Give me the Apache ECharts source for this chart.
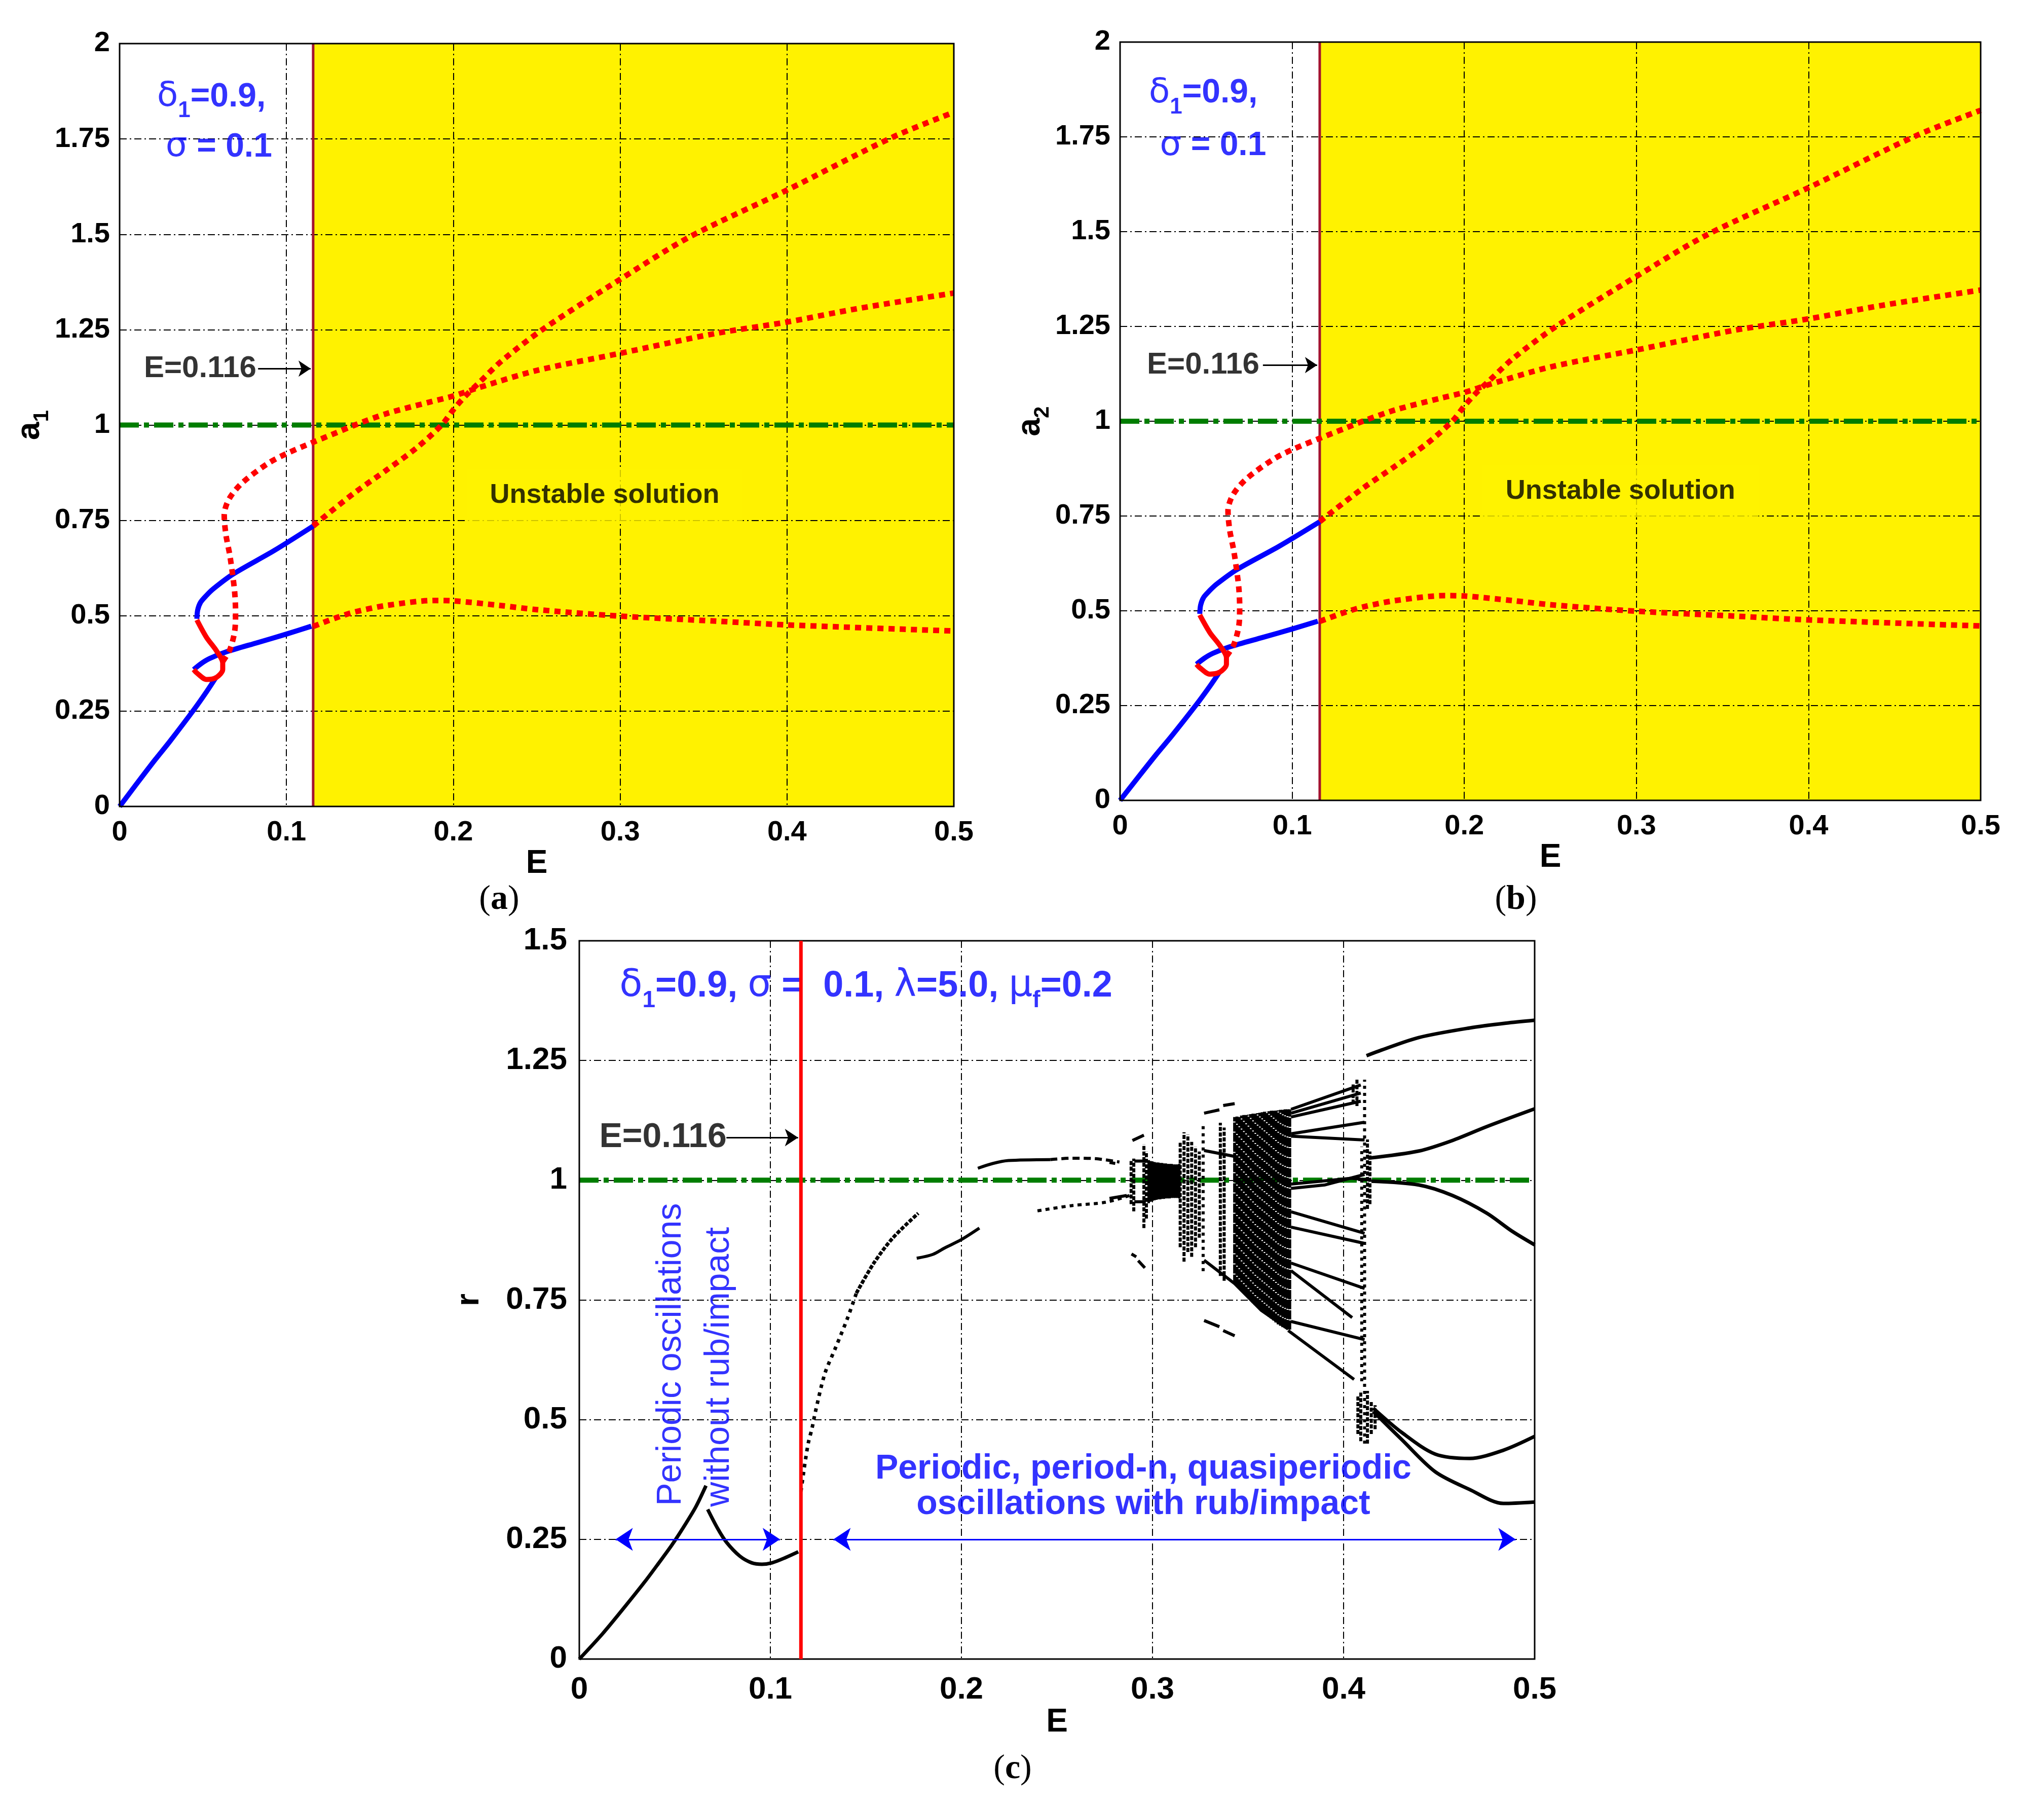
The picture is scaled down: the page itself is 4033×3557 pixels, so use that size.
<!DOCTYPE html>
<html>
<head>
<meta charset="utf-8">
<script src="https://cdn.jsdelivr.net/npm/echarts@6/dist/echarts.min.js"></script>
<style>html,body{margin:0;padding:0;background:#fff}#main{width:4033px;height:3557px}</style>
</head>
<body>
<div id="main"></div>
<script>
var F = 'Liberation Sans, Arial, Helvetica, sans-serif';
var SERIF = 'Liberation Serif, Times New Roman, serif';

// (a) and (b): amplitude branches vs E
var blueLow = [[0,0],[0.01,0.058],[0.0212,0.122],[0.03,0.17],[0.0444,0.253],[0.052,0.30],[0.058,0.34]];
var redLoop = [[0.0463,0.489],[0.0521,0.443],[0.0579,0.409],[0.0618,0.376],[0.0618,0.359],[0.0579,0.338],[0.0521,0.333],[0.0463,0.35],[0.0444,0.359]];
var blueMid = [[0.0444,0.359],[0.049,0.375],[0.054,0.388],[0.0637,0.405],[0.083,0.43],[0.1,0.452],[0.1149,0.4726]];
var blueUp = [[0.0463,0.492],[0.0468,0.515],[0.0485,0.535],[0.052,0.553],[0.056,0.57],[0.0676,0.608],[0.0927,0.671],[0.116,0.735]];
var redMid = [[0.0618,0.38],[0.066,0.41],[0.069,0.46],[0.0695,0.51],[0.069,0.56],[0.0676,0.612],[0.066,0.66],[0.0637,0.713],[0.0627,0.764],[0.0656,0.806],[0.0734,0.848],[0.0888,0.899],[0.1,0.925],[0.116,0.955],[0.13,0.98],[0.141,1.0],[0.16,1.03],[0.1865,1.061],[0.2,1.076],[0.2145,1.097],[0.25,1.143],[0.3,1.188],[0.357,1.24],[0.4,1.27],[0.442,1.305],[0.5,1.346]];
var redSteep = [[0.116,0.735],[0.124,0.764],[0.141,0.823],[0.16,0.882],[0.178,0.94],[0.193,1.0],[0.2,1.04],[0.207,1.075],[0.2145,1.107],[0.229,1.168],[0.255,1.255],[0.3,1.382],[0.342,1.494],[0.4,1.616],[0.463,1.754],[0.5,1.82]];
var redLow = [[0.116,0.472],[0.13,0.495],[0.141,0.51],[0.16,0.527],[0.189,0.54],[0.2,0.539],[0.228,0.527],[0.25,0.516],[0.3,0.499],[0.357,0.486],[0.4,0.476],[0.5,0.46]];

// (c): bifurcation diagram r vs E
var cRise = [[0,0],[0.0122,0.053],[0.0238,0.109],[0.0344,0.162],[0.0415,0.2],[0.0486,0.239],[0.0548,0.277],[0.061,0.318],[0.0663,0.362]];
var cFall = [[0.0672,0.3125],[0.0725,0.272],[0.077,0.244],[0.084,0.215],[0.0902,0.201],[0.0956,0.198],[0.1009,0.201],[0.108,0.212],[0.1146,0.224]];
var cJumpDots = [[0.116,0.35],[0.1173,0.387],[0.1186,0.422],[0.12,0.454],[0.1217,0.48],[0.1235,0.515],[0.1285,0.596],[0.134,0.649],[0.1403,0.711],[0.145,0.764]];
var cJump = [[0.145,0.764],[0.154,0.826],[0.164,0.879],[0.1774,0.931]];
var cSegB = [[0.1766,0.837],[0.185,0.845],[0.191,0.858],[0.2,0.876],[0.2094,0.90]];
var cSegC = [[0.2086,1.025],[0.2165,1.035],[0.2246,1.041],[0.2465,1.043]];
var cSegCd = [[0.2465,1.043],[0.258,1.046],[0.27,1.045],[0.2827,1.038]];
var cSegD = [[0.2398,0.936],[0.2578,0.947],[0.2756,0.954],[0.288,0.968]];
var cDashes = [
  [[0.2775,1.037],[0.2805,1.035]], [[0.2775,0.962],[0.2865,0.968]],
  [[0.2895,1.083],[0.2955,1.094]], [[0.2905,1.04],[0.2965,1.04]], [[0.2905,0.955],[0.2965,0.955]],
  [[0.289,0.846],[0.2915,0.84]], [[0.2925,0.832],[0.296,0.817]],
  [[0.327,1.14],[0.335,1.147]], [[0.337,1.156],[0.343,1.16]],
  [[0.327,0.707],[0.335,0.694]], [[0.337,0.686],[0.343,0.675]],
  [[0.327,1.062],[0.3438,1.049]],
  [[0.327,0.833],[0.343,0.784],[0.357,0.728],[0.371,0.689]]
];
var cBranches = [
  [[0.3725,1.148],[0.409,1.199]], [[0.3725,1.140],[0.409,1.182]], [[0.3725,1.132],[0.409,1.165]],
  [[0.3725,1.097],[0.411,1.121]], [[0.3725,1.092],[0.411,1.084]],
  [[0.3725,0.992],[0.404,1.004],[0.414,1.0]], [[0.3725,0.983],[0.39,0.99],[0.411,1.012]],
  [[0.3725,0.934],[0.411,0.889]], [[0.3725,0.902],[0.411,0.868]],
  [[0.3725,0.827],[0.411,0.774]], [[0.3725,0.811],[0.4045,0.713]],
  [[0.3725,0.705],[0.411,0.667]], [[0.371,0.686],[0.4055,0.584]]
];
var cRight = [
  [[0.412,1.26],[0.42,1.272],[0.4394,1.298],[0.466,1.318],[0.485,1.328],[0.5,1.334]],
  [[0.4128,1.046],[0.4394,1.061],[0.457,1.083],[0.475,1.112],[0.5,1.149]],
  [[0.4146,0.998],[0.4394,0.99],[0.457,0.968],[0.475,0.931],[0.488,0.894],[0.5,0.865]],
  [[0.4155,0.524],[0.4305,0.473],[0.448,0.428],[0.466,0.419],[0.4836,0.436],[0.5,0.465]],
  [[0.4155,0.517],[0.4305,0.458],[0.448,0.391],[0.466,0.354],[0.4836,0.325],[0.5,0.328]]
];
// columns of iterates: [E, r low, r high]
var cBand = [[0.298,0.952,1.042],[0.299,0.955,1.04],[0.300,0.957,1.039],[0.301,0.958,1.038],[0.302,0.959,1.037],[0.303,0.960,1.037],[0.304,0.960,1.036],[0.305,0.961,1.036],[0.306,0.961,1.035],[0.307,0.962,1.035],[0.308,0.962,1.034],[0.309,0.962,1.034],[0.310,0.963,1.034],[0.311,0.963,1.033],[0.312,0.963,1.033],[0.313,0.963,1.033],[0.314,0.962,1.034]];
var cBlock = [[0.3430,0.784,1.132],[0.3442,0.779,1.133],[0.3454,0.774,1.134],[0.3466,0.769,1.135],[0.3478,0.764,1.136],[0.3490,0.759,1.136],[0.3502,0.754,1.137],[0.3514,0.749,1.138],[0.3526,0.744,1.139],[0.3538,0.739,1.140],[0.3550,0.735,1.140],[0.3562,0.731,1.141],[0.3574,0.727,1.142],[0.3586,0.723,1.143],[0.3598,0.719,1.143],[0.3610,0.715,1.144],[0.3622,0.711,1.145],[0.3634,0.707,1.145],[0.3646,0.703,1.146],[0.3658,0.699,1.146],[0.3670,0.696,1.147],[0.3682,0.693,1.147],[0.3694,0.691,1.148],[0.3706,0.689,1.148],[0.3718,0.688,1.148]];
var cSparse = [[0.2888,0.95,1.04],[0.2902,0.935,1.045],[0.2955,0.90,1.075],[0.2968,0.92,1.06],
  [0.3145,0.86,1.08],[0.3165,0.83,1.10],[0.3185,0.85,1.095],[0.3205,0.84,1.08],[0.3225,0.86,1.07],[0.3245,0.88,1.06],
  [0.3355,0.80,1.12],[0.3375,0.79,1.11],
  [0.4125,0.94,1.085],[0.4138,0.95,1.06],
  [0.4075,0.47,0.55],[0.409,0.455,0.56],[0.4125,0.45,0.56],[0.4145,0.47,0.54],[0.4165,0.48,0.53],
  [0.405,1.16,1.20],[0.407,1.155,1.21]];
var cSparser = [[0.3265,0.81,1.116],[0.4095,0.58,1.07],[0.411,0.45,1.21]];

var chart = echarts.init(document.getElementById('main'));

function line(g, data, color, width, dash, z, smooth) {
  return {type:'line', xAxisIndex:g, yAxisIndex:g, data:data, symbol:'none', showSymbol:false,
    smooth:smooth || 0, z:z || 2, silent:true, animation:false,
    lineStyle:{color:color, width:width, type:dash || 'solid', cap:'butt', join:'round'}};
}
function txt(g, x, y, text, ls, z) {
  return {type:'scatter', xAxisIndex:g, yAxisIndex:g, symbolSize:1, silent:true, z:z || 5, animation:false,
    itemStyle:{color:'rgba(0,0,0,0)'}, data:[[x, y]],
    label:Object.assign({show:true, position:'inside', formatter:text}, ls)};
}
function cols(data, width, dash) {
  return {type:'custom', xAxisIndex:2, yAxisIndex:2, data:data, silent:true, z:4, animation:false,
    encode:{x:0, y:[1, 2]},
    renderItem:function (params, api) {
      var a = api.coord([api.value(0), api.value(1)]);
      var b = api.coord([api.value(0), api.value(2)]);
      return {type:'line', shape:{x1:a[0], y1:a[1], x2:b[0], y2:b[1]},
        style:{stroke:'#000', lineWidth:width, lineDash:dash || null}};
    }};
}
function arrow(pairs, color, width, syms, size) {
  return {silent:true, symbol:syms, symbolSize:size, label:{show:false},
    lineStyle:{color:color, width:width, type:'solid'},
    data:pairs.map(function (p) { return [{coord:p[0]}, {coord:p[1]}]; })};
}

var blueRich = {
  g:{fontSize:68, fontWeight:'normal', fontFamily:'DejaVu Sans, sans-serif', color:'#0000FF'},
  s:{fontSize:44, fontWeight:'bold', fontFamily:F, color:'#0000FF', verticalAlign:'bottom', lineHeight:18}
};
var blueStyle = {fontSize:66, fontWeight:'bold', fontFamily:F, color:'#0000FF', lineHeight:100, rich:blueRich};

function panelAB(g, p) {
  var S = [];
  var v = line(g, [[0.116,0],[0.116,2]], '#A3132F', 5, 'solid', 3);
  v.markArea = {silent:true, z:1, itemStyle:{color:'#FFF200'}, data:[[{coord:[0.116,0]}, {coord:[0.5,2]}]]};
  S.push(v);
  S.push(line(g, blueLow, '#0000FF', 10, 'solid', 4, 0.3));
  S.push(line(g, blueMid, '#0000FF', 10, 'solid', 4, 0.3));
  S.push(line(g, blueUp, '#0000FF', 10, 'solid', 4, 0.3));
  S.push(line(g, redLoop, '#FF0000', 10, 'solid', 4, 0.3));
  S.push(line(g, redMid, '#FF0000', 11, [12, 10], 4, 0.3));
  S.push(line(g, redSteep, '#FF0000', 11, [12, 10], 4, 0.3));
  S.push(line(g, redLow, '#FF0000', 11, [12, 10], 4, 0.3));
  var gr = line(g, [[0,1],[0.5,1]], '#007D00', 10, [38, 10, 10, 10], 3);
  gr.markLine = arrow([[[0.083,1.148],[0.1145,1.148]]], '#000', 3, ['none','arrow'], 24);
  S.push(gr);
  S.push(txt(g, p.d[0], p.d[1], '{g|δ}{s|1}=0.9,', blueStyle));
  S.push(txt(g, p.s[0], p.s[1], '{g|σ} = 0.1', blueStyle));
  S.push(txt(g, 0.0483, 1.148, 'E=0.116', {fontSize:60, fontWeight:'bold', fontFamily:F, color:'#000'}));
  S.push(txt(g, 0.2907, 0.816, 'Unstable solution', {fontSize:54, fontWeight:'bold', fontFamily:F, color:'#000',
    backgroundColor:'#FFF200', padding:[24, 46, 26, 46]}));
  return S;
}

var S = panelAB(0, {d:[0.055,1.86], s:[0.0595,1.728]}).concat(panelAB(1, {d:[0.0483,1.865], s:[0.054,1.726]}));

// panel (c)
var vc = line(2, [[0.116,0],[0.116,1.5]], '#FF0000', 7, 'solid', 6);
S.push(vc);
var gc = line(2, [[0,1],[0.5,1]], '#007D00', 10, [38, 10, 10, 10], 3);
gc.markLine = arrow([[[0.077,1.089],[0.1145,1.089]]], '#000', 3, ['none','arrow'], 26);
S.push(gc);
var ar = line(2, [], '#0000FF', 3, 'solid', 5);
ar.markLine = arrow([[[0.019,0.25],[0.105,0.25]], [[0.133,0.25],[0.49,0.25]]], '#0000FF', 3, ['arrow','arrow'], 34);
S.push(ar);
S.push(line(2, cRise, '#000', 7, 'solid', 4, 0.3));
S.push(line(2, cFall, '#000', 7, 'solid', 4, 0.3));
S.push(line(2, cJumpDots, '#000', 7, [7, 9], 4, 0.3));
S.push(line(2, cJump, '#000', 7, [8, 3], 4, 0.3));
S.push(line(2, cSegB, '#000', 6, 'solid', 4, 0.3));
S.push(line(2, cSegC, '#000', 6, 'solid', 4, 0.3));
S.push(line(2, cSegCd, '#000', 6, [14, 8], 4, 0.3));
S.push(line(2, cSegD, '#000', 6, [8, 8], 4, 0.3));
cDashes.forEach(function (d) { S.push(line(2, d, '#000', 6, 'solid', 4)); });
cBranches.forEach(function (d) { S.push(line(2, d, '#000', 6, 'solid', 4)); });
cRight.forEach(function (d) { S.push(line(2, d, '#000', 7, 'solid', 4, 0.3)); });
S.push(cols(cBand, 5));
S.push(cols(cBlock, 6, [18, 2]));
S.push(cols(cSparse, 6, [8, 3]));
S.push(cols(cSparser, 6, [6, 8]));

var cRich = {
  g:{fontSize:74, fontWeight:'normal', fontFamily:'DejaVu Sans, sans-serif', color:'#0000FF'},
  s:{fontSize:46, fontWeight:'bold', fontFamily:F, color:'#0000FF', verticalAlign:'bottom', lineHeight:18}
};
S.push(txt(2, 0.150, 1.405, '{g|δ}{s|1}=0.9, {g|σ} =  0.1, {g|λ}=5.0, {g|μ}{s|f}=0.2',
  {fontSize:72, fontWeight:'bold', fontFamily:F, color:'#0000FF', lineHeight:104, rich:cRich}, 5));
S.push(txt(2, 0.0438, 1.089, 'E=0.116', {fontSize:68, fontWeight:'bold', fontFamily:F, color:'#000'}));
S.push(txt(2, 0.048, 0.636, 'Periodic oscillations', {fontSize:68, fontFamily:F, color:'#0000FF', rotate:90}));
S.push(txt(2, 0.0732, 0.61, 'without rub/impact', {fontSize:68, fontFamily:F, color:'#0000FF', rotate:90}));
S.push(txt(2, 0.2952, 0.397, 'Periodic, period-n, quasiperiodic', {fontSize:68, fontWeight:'bold', fontFamily:F, color:'#0000FF'}));
S.push(txt(2, 0.2952, 0.323, 'oscillations with rub/impact', {fontSize:68, fontWeight:'bold', fontFamily:F, color:'#0000FF'}));

var gridLine = {lineStyle:{color:'#000', width:2, type:[14, 6, 3, 6]}};
function xAx(g, fs, margin, gap) {
  return {type:'value', gridIndex:g, min:0, max:0.5, interval:0.1, z:1.5,
    name:'E', nameLocation:'middle', nameGap:gap,
    nameTextStyle:{fontSize:64, fontWeight:'bold', fontFamily:F, color:'#000'},
    axisLine:{show:false}, axisTick:{show:false},
    axisLabel:{fontSize:fs, fontWeight:'bold', fontFamily:F, color:'#000', margin:margin},
    splitLine:gridLine};
}
function yAx(g, max, name, fs, margin, gap) {
  return {type:'value', gridIndex:g, min:0, max:max, interval:0.25, z:1.5,
    name:name, nameLocation:'middle', nameGap:gap, nameRotate:90,
    nameTextStyle:{fontSize:64, fontWeight:'bold', fontFamily:F, color:'#000', lineHeight:90,
      rich:{s:{fontSize:42, fontWeight:'bold', fontFamily:F, color:'#000', verticalAlign:'bottom', lineHeight:16}}},
    axisLine:{show:false}, axisTick:{show:false},
    axisLabel:{fontSize:fs, fontWeight:'bold', fontFamily:F, color:'#000', margin:margin},
    splitLine:gridLine};
}
var box = {show:true, borderColor:'#000', borderWidth:3, backgroundColor:'rgba(0,0,0,0)', z:6};
var panelTag = function (x, y, letter) {
  return {type:'text', x:x, y:y, style:{text:'({b|' + letter + '})', fill:'#000', fontSize:68, fontFamily:SERIF,
    align:'center', verticalAlign:'middle', rich:{b:{fontSize:68, fontWeight:'bold', fontFamily:SERIF, fill:'#000'}}}};
};

var option = {
  animation:false,
  backgroundColor:'#fff',
  grid:[
    Object.assign({left:236, top:86, width:1646, height:1505}, box),
    Object.assign({left:2210, top:83, width:1698, height:1496}, box),
    Object.assign({left:1143, top:1856, width:1885, height:1417}, box)
  ],
  xAxis:[xAx(0, 56, 24, 58), xAx(1, 56, 24, 58), xAx(2, 62, 30, 84)],
  yAxis:[yAx(0, 2, 'a{s|1}', 56, 19, 130), yAx(1, 2, 'a{s|2}', 56, 19, 130), yAx(2, 1.5, 'r', 62, 24, 172)],
  graphic:[panelTag(985, 1775, 'a'), panelTag(2991, 1775, 'b'), panelTag(1998, 3490, 'c')],
  series:S
};
chart.setOption(option);
</script>
</body>
</html>
